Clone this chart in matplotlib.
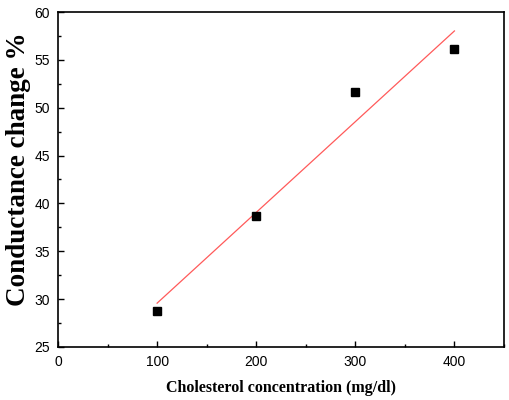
import numpy as np
import matplotlib
matplotlib.use("Agg")
import matplotlib.pyplot as plt
from matplotlib.ticker import MultipleLocator

# Data
concentration = [100, 200, 300, 400]          # mg/dl
conductance_change = [28.8, 38.7, 51.6, 56.1]  # %


def plot_chart():
    fig = plt.figure(figsize=(5.1, 4.0), dpi=100)
    ax = fig.add_axes([0.1137, 0.1325, 0.8745, 0.8375])

    # linear fit over the measured points
    slope, intercept = np.polyfit(concentration, conductance_change, 1)
    x_fit = np.array([concentration[0], concentration[-1]])
    ax.plot(x_fit, slope * x_fit + intercept, color="#ff5a5a", lw=0.9)

    ax.plot(concentration, conductance_change, "s", color="black",
            markersize=6, linestyle="none")

    ax.set_xlim(0, 450)
    ax.set_ylim(25, 60)
    ax.xaxis.set_major_locator(MultipleLocator(100))
    ax.xaxis.set_minor_locator(MultipleLocator(50))
    ax.yaxis.set_major_locator(MultipleLocator(5))
    ax.yaxis.set_minor_locator(MultipleLocator(2.5))

    ax.tick_params(which="both", direction="in", top=False, right=False,
                   width=1.0, labelsize=10)
    ax.tick_params(which="major", length=4)
    ax.tick_params(which="minor", length=2.5)
    ax.tick_params(axis="x", pad=6)
    ax.tick_params(axis="y", pad=6)
    for lab in ax.get_xticklabels() + ax.get_yticklabels():
        lab.set_fontfamily("Liberation Sans")
    for sp in ax.spines.values():
        sp.set_linewidth(1.2)

    ax.set_xlabel("Cholesterol concentration (mg/dl)", family="Liberation Serif",
                  fontweight="bold", fontsize=11.5, labelpad=8)
    ax.set_ylabel("Conductance change %", family="Liberation Serif",
                  fontweight="bold", fontsize=19.5)
    ax.yaxis.set_label_coords(-0.06, 0.53)

    fig.savefig("out.png", dpi=100)


if __name__ == "__main__":
    plot_chart()
